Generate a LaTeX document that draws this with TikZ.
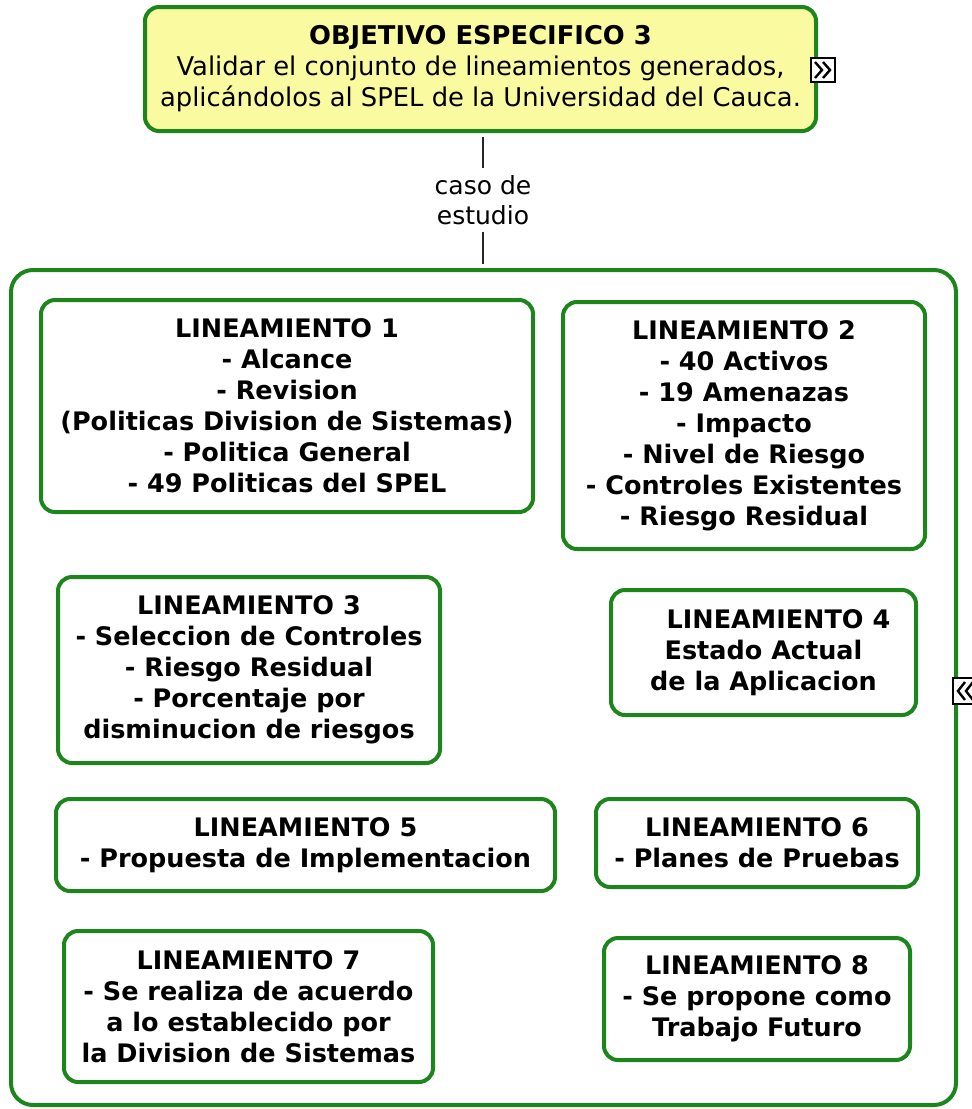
\documentclass[tikz,border=0pt]{standalone}
\usepackage{fontspec}
\setmainfont{DejaVu Sans}
\usetikzlibrary{calc}
\definecolor{frameGreen}{RGB}{28,134,28}
\definecolor{noteYellow}{RGB}{250,250,160}
\tikzset{
  mapbox/.style={draw=frameGreen, line width=4pt, rounded corners=14pt,
    fill=white, align=center, inner sep=0pt,
    font=\fontsize{25.5}{31}\selectfont\bfseries},
  goalbox/.style={mapbox, fill=noteYellow, font=\fontsize{25.8}{31}\selectfont},
  framebox/.style={draw=frameGreen, line width=4pt, rounded corners=22pt,
    inner sep=0pt},
  linklabel/.style={align=center, inner sep=0pt, minimum height=64pt,
    font=\fontsize{25}{30}\selectfont},
  conn/.style={draw=black!85, line width=2pt},
  iconbox/.style={draw=black, line width=1.6pt, fill=white,
    minimum width=24pt, minimum height=24pt, inner sep=0pt},
  chevron/.style={draw=black, line width=2.4pt}
}
\begin{document}
\begin{tikzpicture}[x=1pt,y=-1pt]
\useasboundingbox (0,0) rectangle (972,1109);

% objective and its link to the case study
\node[goalbox, minimum width=671pt, minimum height=124pt] (obj) at (480.5,69)
  {{\bfseries OBJETIVO ESPECIFICO 3}\\Validar el conjunto de lineamientos generados,\\aplicándolos al SPEL de la Universidad del Cauca.};
\node[linklabel] (lbl) at (483,200) {caso de\\estudio};

% outer group
\node[framebox, minimum width=945pt, minimum height=835pt] (frame) at (483.5,687.5) {};

\draw[conn, shorten <=4pt] (obj.south -| lbl.north) -- (lbl.north);
\draw[conn, shorten >=4pt] (lbl.south) -- (lbl.south |- frame.north);

% guidelines
\node[mapbox, minimum width=492pt, minimum height=212pt] (l1) at (287,406)
  {LINEAMIENTO 1\\- Alcance\\- Revision\\(Politicas Division de Sistemas)\\- Politica General\\- 49 Politicas del SPEL};
\node[mapbox, minimum width=362pt, minimum height=247pt] (l2) at (744,425.5)
  {LINEAMIENTO 2\\- 40 Activos\\- 19 Amenazas\\- Impacto\\- Nivel de Riesgo\\- Controles Existentes\\- Riesgo Residual};
\node[mapbox, minimum width=382pt, minimum height=186pt] (l3) at (249,670)
  {LINEAMIENTO 3\\- Seleccion de Controles\\- Riesgo Residual\\- Porcentaje por\\disminucion de riesgos};
\node[mapbox, minimum width=305pt, minimum height=125pt] (l4) at (763.5,652.5)
  {\hspace*{30pt}LINEAMIENTO 4\\Estado Actual\\de la Aplicacion};
\node[mapbox, minimum width=499pt, minimum height=92pt] (l5) at (305.5,845)
  {LINEAMIENTO 5\\- Propuesta de Implementacion};
\node[mapbox, minimum width=322pt, minimum height=88pt] (l6) at (757,843)
  {LINEAMIENTO 6\\- Planes de Pruebas};
\node[mapbox, minimum width=369pt, minimum height=151pt] (l7) at (248.5,1006.5)
  {LINEAMIENTO 7\\- Se realiza de acuerdo\\a lo establecido por\\la Division de Sistemas};
\node[mapbox, minimum width=306pt, minimum height=122pt] (l8) at (757,999)
  {LINEAMIENTO 8\\- Se propone como\\Trabajo Futuro};

% expand / collapse markers
\node[iconbox] (more) at (823,70) {};
\draw[chevron] ($(more.center)+(-8,-8)$) -- ++(7,8) -- ++(-7,8);
\draw[chevron] ($(more.center)+(0,-8)$) -- ++(7,8) -- ++(-7,8);
\node[iconbox, minimum width=26pt, minimum height=26pt] (less) at (966,691) {};
\draw[chevron] ($(less.center)+(-1,-9)$) -- ++(-7,9) -- ++(7,9);
\draw[chevron] ($(less.center)+(7,-9)$) -- ++(-7,9) -- ++(7,9);
\end{tikzpicture}
\end{document}
